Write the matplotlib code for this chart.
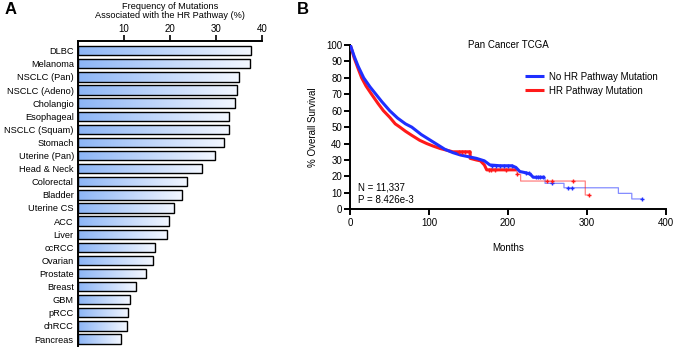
import matplotlib
matplotlib.use("Agg")
import matplotlib.pyplot as plt
from matplotlib.colors import LinearSegmentedColormap
import numpy as np

plt.rcParams['font.family'] = ['Liberation Sans', 'DejaVu Sans']

# ---- Panel A data ----
cancers = ["DLBC", "Melanoma", "NSCLC (Pan)", "NSCLC (Adeno)", "Cholangio",
           "Esophageal", "NSCLC (Squam)", "Stomach", "Uterine (Pan)", "Head & Neck",
           "Colorectal", "Bladder", "Uterine CS", "ACC", "Liver", "ccRCC",
           "Ovarian", "Prostate", "Breast", "GBM", "pRCC", "chRCC", "Pancreas"]
hr_freq = [37.6, 37.3, 34.9, 34.6, 34.2, 32.8, 32.9, 31.7, 29.8, 27.0,
           23.8, 22.7, 20.9, 19.8, 19.3, 16.8, 16.2, 14.7, 12.5, 11.2,
           10.9, 10.6, 9.3]
freq_ticks = [10, 20, 30, 40]

# ---- Panel B data ----
no_hr_t = [0, 5, 10, 17, 25, 32.5, 40, 50, 60, 70, 78, 90, 100, 110, 120, 130,
           140, 150, 160, 170, 177, 190, 205, 210, 215, 222, 228, 232, 247, 247,
           271, 271, 340, 340, 357, 357, 370]
no_hr_s = [100, 93, 87, 80, 74.5, 70, 65.5, 60, 55.5, 52, 50, 45.5, 42.5, 39.5,
           36.5, 34.5, 33, 32, 31, 29.5, 27, 26.5, 26.5, 25.5, 23, 22.3, 21.5,
           19.5, 19.5, 15.8, 15.8, 13.1, 13.1, 9.7, 9.7, 6.3, 6.3]
hr_t = [0, 5, 10, 14.4, 20, 27, 35, 42, 50, 57, 63, 70, 78, 88, 97, 105, 114,
        122, 130, 152, 152, 160, 165, 170, 173, 211, 212, 216, 216, 298, 298, 303]
hr_s = [100, 92, 85.5, 80, 75, 70, 64.5, 60, 56, 52, 50, 47.5, 45, 42, 40,
        38.5, 37, 36, 35, 35, 31, 30, 29.5, 27, 24, 24, 21.3, 21.3, 17.2, 17.2,
        8.7, 8.7]
no_hr_cens_t = [180, 185, 190, 195, 200, 205, 223, 226, 235, 238, 241, 244, 256, 276, 281, 370]
no_hr_cens_s = [26.5, 26.5, 26.5, 26.5, 26.5, 26.5, 22.2, 22.0, 19.5, 19.5, 19.5, 19.5, 15.8, 13.1, 13.1, 6.3]
hr_cens_t = [138, 142, 146, 150, 176, 178, 183, 197, 212, 249, 256, 282, 303]
hr_cens_s = [35, 35, 35, 35, 24, 24, 24, 24, 21.3, 17.2, 17.2, 17.2, 8.7]

fig = plt.figure(figsize=(6.77, 3.48), dpi=100)

# ================= Panel A =================
axA = fig.add_axes([78 / 677, 1 - 346 / 348, 184 / 677, 305 / 348])
ypos = np.arange(len(cancers))
bar_h = 0.71
cmap = LinearSegmentedColormap.from_list("bluefade", ["#8cb5f6", "#f3f7ff"])
grad = np.linspace(0, 1, 256).reshape(1, -1)
for y, v in zip(ypos, hr_freq):
    bar = axA.barh(y, v, height=bar_h, color="none", edgecolor="black",
                   linewidth=1.0, zorder=3)[0]
    im = axA.imshow(grad, extent=[0, v, y + bar_h / 2, y - bar_h / 2],
                    aspect="auto", cmap=cmap, zorder=2)
    im.set_clip_path(bar)

axA.set_xlim(0, 40)
axA.set_ylim(len(cancers) - 0.47, -0.74)
axA.set_yticks(ypos)
axA.set_yticklabels(cancers, fontsize=6.7)
axA.tick_params(axis="y", length=0, pad=3)
axA.xaxis.tick_top()
axA.set_xticks(freq_ticks)
axA.set_xticklabels([str(t) for t in freq_ticks], fontsize=7)
axA.tick_params(axis="x", length=4, width=1.2, pad=0.8)
for s in ["right", "bottom"]:
    axA.spines[s].set_visible(False)
axA.spines["top"].set_linewidth(1.4)
axA.spines["left"].set_linewidth(1.4)
fig.text(170 / 677, 1 - 11 / 348,
         "Frequency of Mutations\nAssociated with the HR Pathway (%)",
         ha="center", va="center", fontsize=6.6, linespacing=1.1)
fig.text(5 / 677, 1 - 10 / 348, "A", fontsize=12, fontweight="bold", va="center")

# ================= Panel B =================
axB = fig.add_axes([350.3 / 677, 1 - 209.3 / 348, 315.4 / 677, 164.3 / 348])
blue = "#1f2fff"
red = "#ff1a1a"
# thin tails, thick dense part
axB.plot(no_hr_t, no_hr_s, color=blue, lw=0.9, alpha=0.55, zorder=3)
axB.plot(hr_t, hr_s, color=red, lw=0.9, alpha=0.55, zorder=3)
nb = 29
nr = 26
axB.plot(no_hr_t[:nb], no_hr_s[:nb], color=blue, lw=2.2, zorder=5,
         label="No HR Pathway Mutation", solid_capstyle="butt")
axB.plot(hr_t[:nr], hr_s[:nr], color=red, lw=2.2, zorder=4,
         label="HR Pathway Mutation", solid_capstyle="butt")
axB.plot(no_hr_cens_t, no_hr_cens_s, "+", color=blue, ms=3.2, mew=1.0, zorder=6)
axB.plot(hr_cens_t, hr_cens_s, "+", color=red, ms=3.2, mew=1.0, zorder=6)

axB.set_xlim(0, 400)
axB.set_ylim(0, 100)
axB.set_xticks([0, 100, 200, 300, 400])
axB.set_yticks(np.arange(0, 101, 10))
axB.tick_params(axis="both", labelsize=7, length=4, width=1.4, pad=2)
axB.spines["right"].set_visible(False)
axB.spines["top"].set_visible(False)
axB.spines["left"].set_linewidth(1.4)
axB.spines["bottom"].set_linewidth(1.4)
axB.set_xlabel("Months", fontsize=7, labelpad=11)
axB.set_ylabel("% Overall Survival", fontsize=7, labelpad=6)
axB.text(0.5, 1.0, "Pan Cancer TCGA", transform=axB.transAxes, fontsize=7,
         ha="center", va="center")
axB.text(0.025, 0.13, "N = 11,337", transform=axB.transAxes, fontsize=7, va="center")
axB.text(0.025, 0.055, "P = 8.426e-3", transform=axB.transAxes, fontsize=7, va="center")
axB.legend(loc="upper left", bbox_to_anchor=(0.54, 0.86), frameon=False,
           fontsize=7, handlelength=2.0, handletextpad=0.5, labelspacing=0.4,
           borderaxespad=0)
fig.text(297 / 677, 1 - 10 / 348, "B", fontsize=12, fontweight="bold", va="center")

fig.savefig("out.png", dpi=100)
